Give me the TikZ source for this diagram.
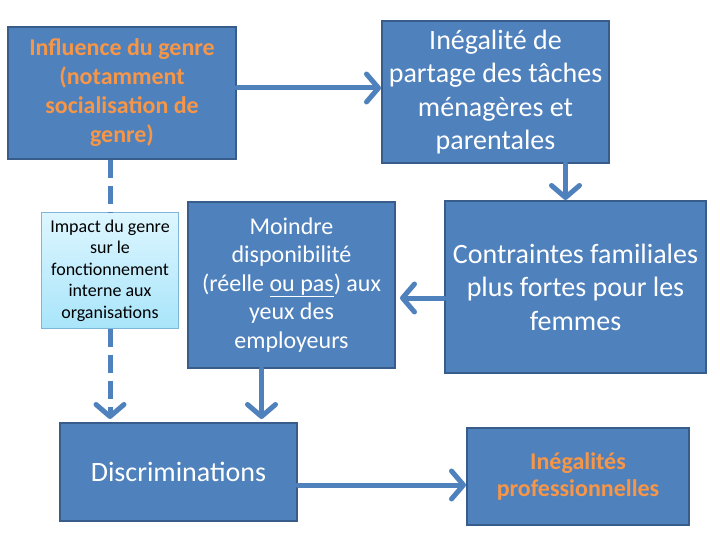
\documentclass[tikz,border=0pt]{standalone}
\usepackage{fontspec}
\setmainfont{Carlito}
\usepackage{xcolor}
\usetikzlibrary{arrows.meta}
\definecolor{boxblue}{HTML}{4F81BD}
\definecolor{boxline}{HTML}{385D8A}
\definecolor{txtorange}{HTML}{F79646}
\definecolor{lightline}{HTML}{7DB6D6}
\definecolor{lighttop}{HTML}{DDF6FF}
\definecolor{lightbottom}{HTML}{A9E5FA}

\begin{document}
\begin{tikzpicture}[x=1pt, y=-1pt,
    bluebox/.style={draw=boxline, line width=2pt, fill=boxblue, inner sep=0pt,
        align=center, text=white},
    lightbox/.style={draw=lightline, line width=1pt, top color=lighttop, bottom color=lightbottom,
        inner sep=0pt, align=center, text=black},
    flow/.style={draw=boxblue, line width=5pt, line cap=round, line join=round,
        -{Straight Barb[length=12pt, width=28pt, round]}},
    dashflow/.style={flow, dash pattern=on 18pt off 8pt, line cap=butt}]
    \useasboundingbox (0,0) rectangle (720,540);
    % boxes
    \node [bluebox, minimum width=228pt, minimum height=132pt, text=txtorange,
        font=\fontsize{24}{29}\selectfont\bfseries] (genre) at (122,93)
        {Influence du genre\\(notamment\\socialisation de\\genre)};
    \node [bluebox, minimum width=227pt, minimum height=142pt,
        font=\fontsize{28}{33.5}\selectfont] (partage) at (495.5,92)
        {Inégalité de\\partage des tâches\\ménagères et\\parentales};
    \node [lightbox, minimum width=137pt, minimum height=115pt,
        font=\fontsize{18}{21.5}\selectfont] (impact) at (110,270.5)
        {Impact du genre\\sur le\\fonctionnement\\interne aux\\organisations};
    \node [bluebox, minimum width=207pt, minimum height=166pt,
        font=\fontsize{24}{28.5}\selectfont] (dispo) at (291.5,285)
        {Moindre\\disponibilité\\(réelle \underline{ou pas}) aux\\yeux des\\employeurs};
    \node [bluebox, minimum width=261pt, minimum height=172pt,
        font=\fontsize{28}{33.5}\selectfont] (contraintes) at (575.5,287)
        {Contraintes familiales\\plus fortes pour les\\femmes};
    \node [bluebox, minimum width=237pt, minimum height=98pt,
        font=\fontsize{28}{33.5}\selectfont] (discri) at (178.5,472)
        {Discriminations};
    \node [bluebox, minimum width=222pt, minimum height=97pt, text=txtorange,
        font=\fontsize{24}{27}\selectfont\bfseries] (inegal) at (578,476.5)
        {Inégalités\\professionnelles};
    % arrows
    \draw [flow] ([yshift=5pt]genre.east) -- ([yshift=5pt]genre.east -| partage.west);
    \draw [flow] ([xshift=-10pt]contraintes.north |- partage.south) -- ([xshift=-10pt]contraintes.north);
    \draw [flow, shorten >=4pt] ([yshift=-11pt]contraintes.west) -- ([yshift=-11pt]contraintes.west -| dispo.east);
    \draw [flow, shorten >=3pt] ([xshift=-30pt]dispo.south) -- ([xshift=-30pt]dispo.south |- discri.north);
    \draw [flow] ([yshift=-13pt]discri.east) -- ([yshift=-13pt]discri.east -| inegal.west);
    \draw [dashflow, -] (impact.north |- genre.south) -- (impact.north);
    \draw [dashflow, shorten >=3pt] (impact.south) -- (impact.south |- discri.north);
\end{tikzpicture}
\end{document}
